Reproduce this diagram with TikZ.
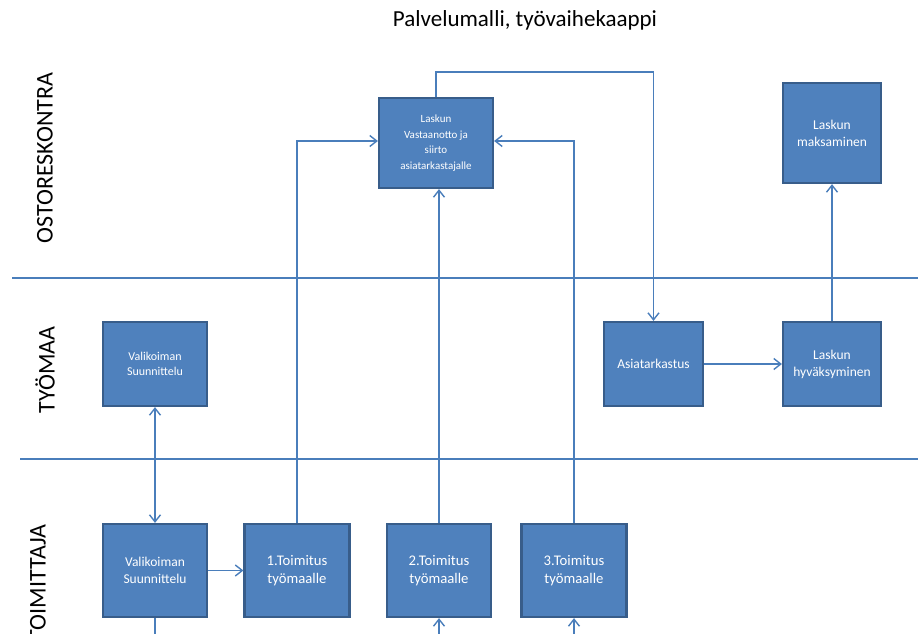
\documentclass[tikz,border=0pt]{standalone}
\usepackage{fontspec}
\setmainfont{Carlito}
\usetikzlibrary{arrows.meta}
\definecolor{boxfill}{HTML}{4F81BD}
\definecolor{boxline}{HTML}{385D8A}
\definecolor{flowline}{HTML}{4A7EBB}
\begin{document}
\begin{tikzpicture}[x=1pt,y=-1pt,>={Straight Barb[length=7pt,width=11pt]}]
	\tikzstyle{task}=[rectangle, draw=boxline, line width=2.2pt, fill=boxfill, text=white, align=center, minimum width=104pt, minimum height=84pt, inner sep=2pt, font=\fontsize{13.5}{17}\selectfont]
	\tikzstyle{small}=[font=\fontsize{11}{15.5}\selectfont]
	\tikzstyle{mid}=[font=\fontsize{12}{15.5}\selectfont]
	\tikzstyle{big}=[font=\fontsize{14.7}{17.5}\selectfont]
	\tikzstyle{flow}=[draw=flowline, line width=1.4pt]
	\tikzstyle{role}=[rotate=90, font=\fontsize{24}{26}\selectfont]
	\useasboundingbox (0,0) rectangle (924,633);

	\node (title) at (525,20) {\fontsize{23}{26}\selectfont Palvelumalli, työvaihekaappi};

	% lanes
	\node[role] (ostot) at (45,158) {OSTORESKONTRA};
	\node[role] (tyomaa) at (45,370) {TYÖMAA};
	\node[role] (toimittaja) at (38,583) {TOIMITTAJA};
	\coordinate (laneA1) at (12,278);
	\coordinate (laneA2) at (918,278);
	\coordinate (laneB1) at (20,459);
	\coordinate (laneB2) at (918,459);
	\draw[flow] (laneA1) -- (laneA2);
	\draw[flow] (laneB1) -- (laneB2);

	% ostoreskontra
	\node[task, small, minimum width=114pt, minimum height=90pt] (lasku) at (436,143) {Laskun\\Vastaanotto ja\\siirto\\asiatarkastajalle};
	\node[task, minimum width=98pt, minimum height=100pt] (maksu) at (832,133) {Laskun\\maksaminen};

	% tyomaa
	\node[task, mid] (valTy) at (155,364) {Valikoiman\\Suunnittelu};
	\node[task, minimum width=99pt] (asia) at (653.5,364) {Asiatarkastus};
	\node[task, minimum width=98pt] (hyv) at (832,364) {Laskun\\hyväksyminen};

	% toimittaja
	\node[task, minimum height=93pt] (valTo) at (155,570.5) {Valikoiman\\Suunnittelu};
	\node[task, big, minimum width=105pt, minimum height=93pt] (t1) at (297,570.5) {1.Toimitus\\työmaalle};
	\node[task, big, minimum height=93pt] (t2) at (439,570.5) {2.Toimitus\\työmaalle};
	\node[task, big, minimum width=105pt, minimum height=93pt] (t3) at (574,570.5) {3.Toimitus\\työmaalle};

	\coordinate (valOut) at (155,640);
	\coordinate (t2In) at (439,640);
	\coordinate (t3In) at (574,640);

	\draw[flow, ->] (lasku.north) -- ++(0,-25) -| (asia.north);
	\draw[flow, ->] (asia.east) -- (hyv.west);
	\draw[flow, ->] (hyv.north) -- (maksu.south);
	\draw[flow, <->] (valTy.south) -- (valTo.north);
	\draw[flow, ->] (valTo.east) -- (t1.west);
	\draw[flow, ->] (t1.north) |- ([yshift=2pt]lasku.west);
	\draw[flow, ->] (t2.north) -- (t2.north |- lasku.south);
	\draw[flow, ->] (t3.north) |- ([yshift=2pt]lasku.east);
	\draw[flow] (valTo.south) -- (valOut);
	\draw[flow, ->] (t2In) -- (t2.south);
	\draw[flow, ->] (t3In) -- (t3.south);
\end{tikzpicture}
\end{document}
